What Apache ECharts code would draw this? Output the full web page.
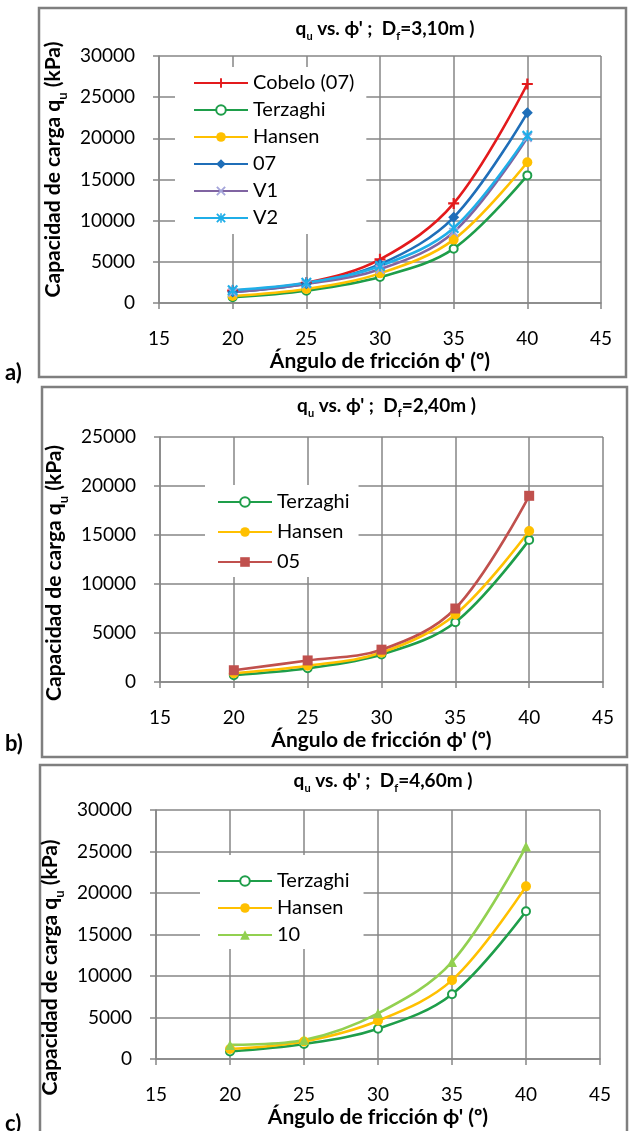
<!DOCTYPE html>
<html>
<head>
<meta charset="utf-8">
<script src="https://cdn.jsdelivr.net/npm/echarts@6/dist/echarts.min.js"></script>
<style>
html, body { margin: 0; padding: 0; background: #fff; }
#chart { width: 629px; height: 1131px; }
</style>
</head>
<body>
<div id="chart"></div>
<script>
// angulos de friccion (x)
const angles = [20, 25, 30, 35, 40];

// a) Df = 3,10 m
const cobeloA = [1500, 2450, 5300, 12100, 26600];
const terzaghiA = [700, 1500, 3150, 6600, 15500];
const hansenA = [850, 1700, 3600, 7700, 17100];
const o7A = [1350, 2350, 4700, 10400, 23100];
const v1A = [1300, 2300, 4100, 8600, 20100];
const v2A = [1550, 2450, 4500, 9100, 20300];

// b) Df = 2,40 m
const terzaghiB = [700, 1400, 2800, 6100, 14500];
const hansenB = [900, 1650, 3000, 6900, 15400];
const o5B = [1200, 2200, 3300, 7500, 19000];

// c) Df = 4,60 m
const terzaghiC = [900, 1800, 3650, 7800, 17800];
const hansenC = [1200, 2100, 4600, 9500, 20800];
const tenC = [1700, 2300, 5500, 11700, 25600];

const titles = ['3,10m', '2,40m', '4,60m'];
const yMax = [30000, 25000, 30000];

const FONT = 'Lato';
const GRID_C = '#868686';

const plusPath = 'path://M4,0H6V4H10V6H6V10H4V6H0V4H4Z';
const xPath = 'path://M1.4,0L5,3.6L8.6,0L10,1.4L6.4,5L10,8.6L8.6,10L5,6.4L1.4,10L0,8.6L3.6,5L0,1.4Z';
const starPath = 'path://M1.4,0L4.2,2.8V0H5.8V2.8L8.6,0L10,1.4L6.4,5L10,8.6L8.6,10L5.8,7.2V10H4.2V7.2L1.4,10L0,8.6L3.6,5L0,1.4Z';

const pts = vals => angles.map((a, i) => [a, vals[i]]);

const grids = [
    { left: 159, right: 28, top: 56, height: 247 },
    { left: 160, right: 26, top: 437, height: 245 },
    { left: 156, right: 29, top: 810, height: 249 }
];

const subRich = {
    a: { fontFamily: FONT, fontWeight: 'bold', fontSize: 19, color: '#000', lineHeight: 22, verticalAlign: 'top' },
    s: { fontFamily: FONT, fontWeight: 'bold', fontSize: 11, color: '#000', lineHeight: 11, padding: [12, 0, 0, 0], verticalAlign: 'top' }
};
const nameRich = {
    a: { fontFamily: FONT, fontWeight: 'bold', fontSize: 21, color: '#000', lineHeight: 24, verticalAlign: 'top' },
    s: { fontFamily: FONT, fontWeight: 'bold', fontSize: 13, color: '#000', lineHeight: 13, padding: [13, 0, 0, 0], verticalAlign: 'top' }
};

const xAxes = grids.map((g, i) => ({
    gridIndex: i,
    type: 'value',
    min: 15, max: 45, interval: 5,
    name: "Ángulo de fricción ϕ' (º)",
    nameLocation: 'middle',
    nameGap: 48,
    nameTextStyle: { fontFamily: FONT, fontWeight: 'bold', fontSize: 21, color: '#000' },
    axisLine: { lineStyle: { color: GRID_C, width: 1.5 } },
    axisTick: { show: true, length: 6, lineStyle: { color: GRID_C, width: 1.5 } },
    axisLabel: { margin: 26, fontFamily: FONT, fontSize: 19, color: '#000' },
    splitLine: { show: true, lineStyle: { color: GRID_C, width: 1.5 } }
}));

const namePad = [[0, 0, 0, 20], [0, 27, 0, 0], [0, 66, 0, 0]];
const yAxes = grids.map((g, i) => ({
    gridIndex: i,
    type: 'value',
    min: 0, max: yMax[i], interval: 5000,
    name: '{a|Capacidad de carga q}{s|u}{a| (kPa)}',
    nameLocation: 'middle',
    nameGap: 86,
    nameTextStyle: { rich: nameRich, padding: namePad[i] },
    axisLine: { show: true, lineStyle: { color: GRID_C, width: 1.5 } },
    axisTick: { show: true, length: 6, lineStyle: { color: GRID_C, width: 1.5 } },
    axisLabel: { margin: 24, fontFamily: FONT, fontSize: 19, color: '#000', formatter: v => String(v) },
    splitLine: { show: true, lineStyle: { color: GRID_C, width: 1.5 } }
}));

const titleTops = [14, 391, 766];
const title = titles.map((t, i) => ({
    text: '{a|q}{s|u}{a| vs. ϕ\' ;  D}{s|f}{a|=' + t + ' )}',
    left: (grids[i].left + 629 - grids[i].right) / 2,
    textAlign: 'center',
    top: titleTops[i],
    textStyle: { fontSize: 19, fontWeight: 'bold', fontFamily: FONT, rich: subRich }
}));

function line(name, data, color, symbol, size, gi, extra) {
    return Object.assign({
        name: name,
        type: 'line',
        xAxisIndex: gi,
        yAxisIndex: gi,
        data: pts(data),
        smooth: 0.35,
        symbol: symbol,
        symbolSize: size,
        showSymbol: true,
        lineStyle: { color: color, width: 2.6 },
        itemStyle: { color: color },
        emphasis: { disabled: true },
        animation: false
    }, extra || {});
}

const GREEN = '#1E9E4A', GOLD = '#FFC000';

const series = [
    line('Cobelo (07)', cobeloA, '#E31A1C', plusPath, 11, 0),
    line('Terzaghi', terzaghiA, GREEN, 'emptyCircle', 8, 0, { itemStyle: { color: GREEN, borderWidth: 1.6 } }),
    line('Hansen', hansenA, GOLD, 'circle', 10, 0),
    line('07', o7A, '#1F6EB8', 'diamond', 11, 0),
    line('V1', v1A, '#8064A2', xPath, 10, 0, { itemStyle: { color: '#A5A5DA' } }),
    line('V2', v2A, '#1FAEE8', starPath, 11, 0),

    line('Terzaghi ', terzaghiB, GREEN, 'emptyCircle', 8, 1, { itemStyle: { color: GREEN, borderWidth: 1.6 } }),
    line('Hansen ', hansenB, GOLD, 'circle', 10, 1),
    line('05', o5B, '#C0504D', 'rect', 10, 1),

    line('Terzaghi  ', terzaghiC, GREEN, 'emptyCircle', 8, 2, { itemStyle: { color: GREEN, borderWidth: 1.6 } }),
    line('Hansen  ', hansenC, GOLD, 'circle', 10, 2),
    line('10', tenC, '#92D050', 'triangle', 10, 2)
];

const legendBase = {
    orient: 'vertical',
    backgroundColor: '#fff',
    itemWidth: 54,
    itemHeight: 12,
    textStyle: { fontFamily: FONT, fontSize: 20, color: '#000' },
    selectedMode: false
};
const legend = [
    Object.assign({}, legendBase, {
        data: ['Cobelo (07)', 'Terzaghi', 'Hansen', '07', 'V1', 'V2'],
        left: 175, top: 67, itemGap: 7, padding: [6, 12, 6, 18]
    }),
    Object.assign({}, legendBase, {
        data: ['Terzaghi ', 'Hansen ', '05'],
        left: 205, top: 485, itemGap: 10, padding: [7, 9, 5, 12],
        formatter: n => n.trim()
    }),
    Object.assign({}, legendBase, {
        data: ['Terzaghi  ', 'Hansen  ', '10'],
        left: 200, top: 855, itemGap: 7, padding: [16, 14, 4, 17],
        formatter: n => n.trim()
    })
];

const boxStyle = { fill: null, stroke: '#7F7F7F', lineWidth: 2.5 };
const labStyle = { fill: '#000', font: 'bold 22px Lato' };
const graphic = [
    { type: 'rect', shape: { x: 39, y: 8, width: 587, height: 369 }, style: boxStyle, silent: true },
    { type: 'rect', shape: { x: 42, y: 387, width: 585, height: 370 }, style: boxStyle, silent: true },
    { type: 'rect', shape: { x: 40, y: 765, width: 587, height: 380 }, style: boxStyle, silent: true },
    { type: 'text', left: 5, top: 362, style: Object.assign({ text: 'a)' }, labStyle) },
    { type: 'text', left: 5, top: 733, style: Object.assign({ text: 'b)' }, labStyle) },
    { type: 'text', left: 5, top: 1113, style: Object.assign({ text: 'c)' }, labStyle) }
];

const chart = echarts.init(document.getElementById('chart'));
chart.setOption({
    animation: false,
    backgroundColor: '#fff',
    title: title,
    grid: grids,
    xAxis: xAxes,
    yAxis: yAxes,
    legend: legend,
    series: series,
    graphic: graphic
});
</script>
</body>
</html>
